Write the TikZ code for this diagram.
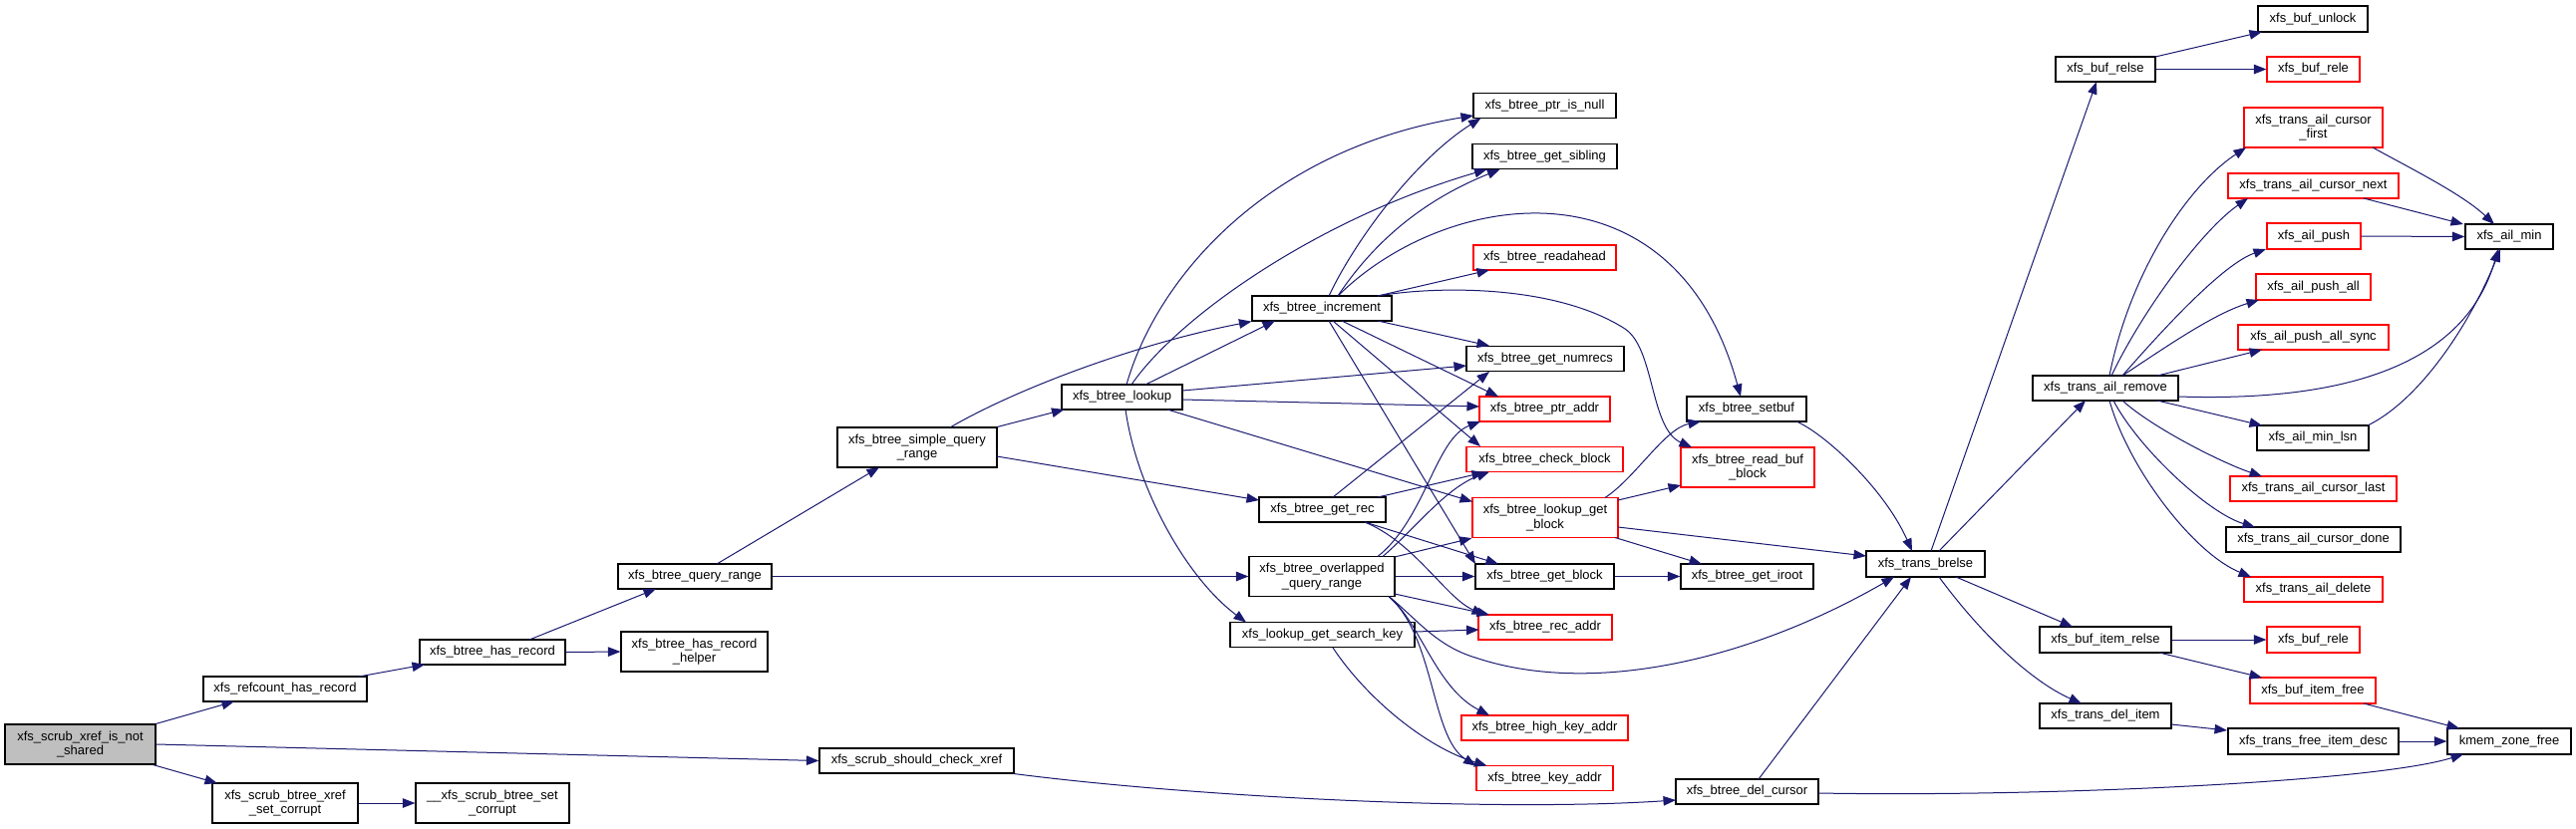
\documentclass[tikz,border=0pt]{standalone}
\usepackage{fontspec}
\setmainfont{Liberation Sans}
\usetikzlibrary{arrows.meta,calc}
\definecolor{edgeblue}{HTML}{191970}
\definecolor{rootgray}{HTML}{BFBFBF}
\definecolor{nodered}{HTML}{FF0000}
\tikzset{
  fn/.style={draw=black, line width=1.2pt, fill=white, inner sep=0pt, align=center,
    font=\fontsize{13}{14.5}\selectfont},
  fr/.style={fn, draw=nodered},
  froot/.style={fn, fill=rootgray},
  sz/.style 2 args={minimum width=#1pt, minimum height=#2pt},
  e/.style={draw=edgeblue, line width=1pt, -{Triangle[length=12.5pt,width=9.5pt]}},
}
\begin{document}
\begin{tikzpicture}[x=1pt,y=-1pt]
\useasboundingbox (0,0) rectangle (2584,831);
\fill[white] (0,0) rectangle (2584,831);
% nodes
\node[froot, sz={151}{40}] (n01) at (80.5,747) {xfs\_scrub\_xref\_is\_not\\\_shared};
\node[fn, sz={164}{25}] (n02) at (286,691.5) {xfs\_refcount\_has\_record};
\node[fn, sz={146}{40}] (n03) at (286,806) {xfs\_scrub\_btree\_xref\\\_set\_corrupt};
\node[fn, sz={154}{40}] (n04) at (494,806) {\_\_xfs\_scrub\_btree\_set\\\_corrupt};
\node[fn, sz={146}{25}] (n05) at (494,654.5) {xfs\_btree\_has\_record};
\node[fn, sz={147}{40}] (n06) at (696.5,654) {xfs\_btree\_has\_record\\\_helper};
\node[fn, sz={154}{25}] (n07) at (697,578.5) {xfs\_btree\_query\_range};
\node[fn, sz={195}{25}] (n08) at (919.5,763.5) {xfs\_scrub\_should\_check\_xref};
\node[fn, sz={160}{40}] (n09) at (920,449) {xfs\_btree\_simple\_query\\\_range};
\node[fn, sz={121}{25}] (n10) at (1125.5,398.5) {xfs\_btree\_lookup};
\node[fn, sz={140}{25}] (n11) at (1326,309.5) {xfs\_btree\_increment};
\node[fn, sz={127}{25}] (n12) at (1326.5,511.5) {xfs\_btree\_get\_rec};
\node[fn, sz={146}{40}] (n13) at (1326,578.5) {xfs\_btree\_overlapped\\\_query\_range};
\node[fn, sz={185}{25}] (n14) at (1326.5,637) {xfs\_lookup\_get\_search\_key};
\node[fn, sz={143}{25}] (n15) at (1549.5,106) {xfs\_btree\_ptr\_is\_null};
\node[fn, sz={145}{25}] (n16) at (1549.5,157) {xfs\_btree\_get\_sibling};
\node[fr, sz={143}{25}] (n17) at (1549.5,258.5) {xfs\_btree\_readahead};
\node[fn, sz={158}{25}] (n18) at (1550,360) {xfs\_btree\_get\_numrecs};
\node[fr, sz={131}{25}] (n19) at (1549.5,410.5) {xfs\_btree\_ptr\_addr};
\node[fr, sz={157}{25}] (n20) at (1549.5,461) {xfs\_btree\_check\_block};
\node[fr, sz={146}{40}] (n21) at (1550,519.5) {xfs\_btree\_lookup\_get\\\_block};
\node[fn, sz={139}{25}] (n22) at (1549.5,578.5) {xfs\_btree\_get\_block};
\node[fr, sz={134}{25}] (n23) at (1550,629.5) {xfs\_btree\_rec\_addr};
\node[fr, sz={167}{25}] (n24) at (1549.5,730.5) {xfs\_btree\_high\_key\_addr};
\node[fr, sz={137}{25}] (n25) at (1549.5,781) {xfs\_btree\_key\_addr};
\node[fn, sz={120}{25}] (n26) at (1752,410.5) {xfs\_btree\_setbuf};
\node[fr, sz={134}{40}] (n27) at (1753,469) {xfs\_btree\_read\_buf\\\_block};
\node[fn, sz={133}{25}] (n28) at (1752.5,578.5) {xfs\_btree\_get\_iroot};
\node[fn, sz={143}{25}] (n29) at (1752.5,794.5) {xfs\_btree\_del\_cursor};
\node[fn, sz={119}{26}] (n30) at (1931.5,566) {xfs\_trans\_brelse};
\node[fn, sz={100}{25}] (n31) at (2112,69.5) {xfs\_buf\_relse};
\node[fn, sz={110}{26}] (n32) at (2320,19) {xfs\_buf\_unlock};
\node[fr, sz={93}{25}] (n33) at (2320.5,69.5) {xfs\_buf\_rele};
\node[fr, sz={139}{40}] (n34) at (2320.5,128) {xfs\_trans\_ail\_cursor\\\_first};
\node[fr, sz={171}{25}] (n35) at (2320.5,186.5) {xfs\_trans\_ail\_cursor\_next};
\node[fr, sz={94}{26}] (n36) at (2321,237) {xfs\_ail\_push};
\node[fn, sz={88}{25}] (n37) at (2517,237.5) {xfs\_ail\_min};
\node[fr, sz={115}{26}] (n38) at (2320.5,288) {xfs\_ail\_push\_all};
\node[fr, sz={151}{25}] (n39) at (2320.5,338.5) {xfs\_ail\_push\_all\_sync};
\node[fn, sz={146}{25}] (n40) at (2112,389.5) {xfs\_trans\_ail\_remove};
\node[fn, sz={112}{25}] (n41) at (2320,439.5) {xfs\_ail\_min\_lsn};
\node[fr, sz={167}{25}] (n42) at (2320.5,490.5) {xfs\_trans\_ail\_cursor\_last};
\node[fn, sz={175}{25}] (n43) at (2320.5,541.5) {xfs\_trans\_ail\_cursor\_done};
\node[fr, sz={139}{25}] (n44) at (2320.5,591.5) {xfs\_trans\_ail\_delete};
\node[fn, sz={132}{26}] (n45) at (2112,642) {xfs\_buf\_item\_relse};
\node[fr, sz={93}{26}] (n46) at (2320.5,642) {xfs\_buf\_rele};
\node[fr, sz={126}{26}] (n47) at (2320,693) {xfs\_buf\_item\_free};
\node[fn, sz={132}{25}] (n48) at (2112,718.5) {xfs\_trans\_del\_item};
\node[fn, sz={171}{26}] (n49) at (2320.5,744) {xfs\_trans\_free\_item\_desc};
\node[fn, sz={124}{26}] (n50) at (2517,744) {kmem\_zone\_free};
% edges
\draw[e] (n01.north east) -- ($(n02)+(-51,12.5)$);
\draw[e] ($(n01.south east)+(-3,0)$) -- ($(n03)+(-68,-20)$);
\draw[e] (n01.east) -- (n08.west);
\draw[e] (n03.east) -- (n04.west);
\draw[e] ($(n02)+(74,-12.5)$) -- ($(n05)+(-68,12.5)$);
\draw[e] ($(n05)+(37,-12.5)$) -- ($(n07)+(-39,12.5)$);
\draw[e] (n05.east) -- (n06.west);
\draw[e] ($(n07)+(22,-12.5)$) -- ($(n09)+(-38,20)$);
\draw[e] (n07.east) -- (n13.west);
\draw[e] (n09.north east) -- ($(n10)+(-58,12.5)$);
\draw[e] ($(n09)+(33,-20)$) .. controls (1020,390) and (1140,345) .. (n11.south west);
\draw[e] ($(n09)+(80,9)$) -- ($(n12)+(-63.5,-9.5)$);
\draw[e] ($(n10)+(23.5,-12.5)$) -- ($(n11)+(-47,12.5)$);
\draw[e] ($(n10)+(4.5,-12.5)$) .. controls (1160,280) and (1270,150) .. ($(n15)+(-71.5,10)$);
\draw[e] ($(n10)+(9.5,-12.5)$) .. controls (1180,320) and (1320,220) .. ($(n16)+(-58,13)$);
\draw[e] ($(n10)+(60.5,-6.5)$) -- ($(n18)+(-79,7)$);
\draw[e] ($(n10)+(60.5,2.5)$) -- ($(n19)+(-65.5,-2.5)$);
\draw[e] ($(n10)+(45.5,12.5)$) -- ($(n21)+(-73,-16)$);
\draw[e] ($(n10)+(3.5,12.5)$) .. controls (1140,490) and (1190,580) .. ($(n14)+(-76.5,-12.5)$);
\draw[e] ($(n11)+(56,-12.5)$) -- ($(n17)+(-55.5,12.5)$);
\draw[e] ($(n11)+(56,12.5)$) -- ($(n18)+(-56,-13)$);
\draw[e] ($(n11)+(20,12.5)$) -- ($(n19)+(-46.5,-12.5)$);
\draw[e] ($(n11)+(11,12.5)$) -- ($(n20)+(-64.5,-13)$);
\draw[e] ($(n11)+(7,12.5)$) -- ($(n22)+(-69.5,-12.5)$);
\draw[e] ($(n11)+(7,-12.5)$) .. controls (1360,240) and (1420,160) .. ($(n15)+(-64,12.5)$);
\draw[e] ($(n11)+(16,-12.5)$) .. controls (1380,240) and (1430,200) .. ($(n16)+(-45,13)$);
\draw[e] ($(n11)+(16,-12.5)$) .. controls (1450,190) and (1680,155) .. ($(n26)+(-6,-12.5)$);
\draw[e] ($(n11)+(56,-12.5)$) .. controls (1440,287) and (1560,285) .. (1630,330) .. controls (1660,350) and (1655,430) .. ($(n27)+(-56,-20)$);
\draw[e] ($(n12)+(10.5,-12.5)$) -- ($(n18)+(-56,13)$);
\draw[e] ($(n12)+(55.5,-12.5)$) -- ($(n20)+(-60.5,13)$);
\draw[e] ($(n12)+(42.5,12.5)$) -- ($(n22)+(-46.5,-12.5)$);
\draw[e] ($(n12)+(42.5,12.5)$) .. controls (1420,545) and (1450,600) .. ($(n23)+(-61,-12.5)$);
\draw[e] ($(n13)+(56,-20)$) .. controls (1430,520) and (1440,440) .. ($(n19)+(-64.5,12.5)$);
\draw[e] ($(n13)+(61,-20)$) .. controls (1420,530) and (1450,490) .. ($(n20)+(-55.5,12.5)$);
\draw[e] ($(n13)+(73,-19.5)$) -- (n21.south west);
\draw[e] (n13.east) -- (n22.west);
\draw[e] ($(n13)+(73,17.5)$) -- ($(n23)+(-56,-12.5)$);
\draw[e] ($(n13)+(67,20)$) .. controls (1425,625) and (1440,690) .. ($(n24)+(-55.5,-12.5)$);
\draw[e] ($(n13)+(67,20)$) .. controls (1440,640) and (1435,740) .. ($(n25)+(-69,-12.5)$);
\draw[e] ($(n13)+(67,20)$) .. controls (1420,620) and (1440,648) .. (1480,660) .. controls (1600,700) and (1760,660) .. ($(n30)+(-31.5,13)$);
\draw[e] ($(n14)+(92.5,-3)$) -- ($(n23)+(-66.5,2.5)$);
\draw[e] ($(n14)+(10.5,13)$) .. controls (1370,700) and (1430,750) .. ($(n25)+(-58,-12.5)$);
\draw[e] ($(n21)+(73,-17.5)$) -- ($(n27)+(-67,18)$);
\draw[e] ($(n21)+(60,-20)$) .. controls (1640,480) and (1670,430) .. ($(n26)+(-46,12.5)$);
\draw[e] ($(n21)+(70,20)$) -- ($(n28)+(-45.5,-12.5)$);
\draw[e] ($(n21)+(73,9.5)$) -- ($(n30)+(-59.5,-8)$);
\draw[e] (n22.east) -- (n28.west);
\draw[e] ($(n26)+(50,12.5)$) .. controls (1830,435) and (1890,490) .. ($(n30)+(-13.5,-13)$);
\draw[e] ($(n29)+(11.5,-12.5)$) -- ($(n30)+(-14.5,13)$);
\draw[e] ($(n29)+(71.5,1.5)$) .. controls (2050,800) and (2380,785) .. ($(n50)+(-46,13)$);
\draw[e] (n08.south east) .. controls (1200,800) and (1500,815) .. ($(n29)+(-71.5,8.5)$);
\draw[e] ($(n30)+(5.5,-13)$) -- ($(n31)+(-9,12.5)$);
\draw[e] ($(n30)+(13.5,-13)$) -- ($(n40)+(-20,12.5)$);
\draw[e] ($(n30)+(30.5,13)$) -- ($(n45)+(-33,-13)$);
\draw[e] ($(n30)+(13.5,13)$) .. controls (1990,640) and (2040,685) .. ($(n48)+(-24,-12.5)$);
\draw[e] ($(n31)+(50,-12.5)$) -- ($(n32)+(-51,13)$);
\draw[e] (n31.east) -- (n33.west);
\draw[e] ($(n40)+(4,-12.5)$) .. controls (2135,280) and (2190,190) .. ($(n34)+(-67.5,20)$);
\draw[e] ($(n40)+(6,-12.5)$) .. controls (2150,310) and (2210,230) .. ($(n35)+(-65.5,12.5)$);
\draw[e] ($(n40)+(17,-12.5)$) .. controls (2170,330) and (2230,265) .. ($(n36)+(-48,13)$);
\draw[e] ($(n40)+(17,-12.5)$) .. controls (2170,350) and (2220,315) .. ($(n38)+(-54.5,13)$);
\draw[e] ($(n40)+(52,-12.5)$) -- ($(n39)+(-51.5,12.5)$);
\draw[e] ($(n40)+(73,8.5)$) .. controls (2400,405) and (2480,340) .. ($(n37)+(-11,12.5)$);
\draw[e] ($(n40)+(52,12.5)$) -- ($(n41)+(-51,-12.5)$);
\draw[e] ($(n40)+(17,12.5)$) .. controls (2160,430) and (2230,465) .. ($(n42)+(-51.5,-12.5)$);
\draw[e] ($(n40)+(8,12.5)$) .. controls (2145,450) and (2215,515) .. ($(n43)+(-58.5,-12.5)$);
\draw[e] ($(n40)+(4,12.5)$) .. controls (2135,470) and (2200,555) .. ($(n44)+(-62.5,-12.5)$);
\draw[e] ($(n34)+(59.5,20)$) .. controls (2420,170) and (2470,195) .. ($(n37)+(-15,-12.5)$);
\draw[e] ($(n35)+(50.5,12.5)$) -- ($(n37)+(-46,-12.5)$);
\draw[e] (n36.east) -- (n37.west);
\draw[e] ($(n41)+(55,-12.5)$) .. controls (2430,400) and (2480,320) .. ($(n37)+(-9,12.5)$);
\draw[e] (n45.east) -- (n46.west);
\draw[e] ($(n45)+(54,13)$) -- ($(n47)+(-51,-13)$);
\draw[e] ($(n47)+(51,13)$) -- ($(n50)+(-50,-13)$);
\draw[e] ($(n48)+(66,8.5)$) -- ($(n49)+(-86.5,-11)$);
\draw[e] (n49.east) -- (n50.west);
\end{tikzpicture}
\end{document}
